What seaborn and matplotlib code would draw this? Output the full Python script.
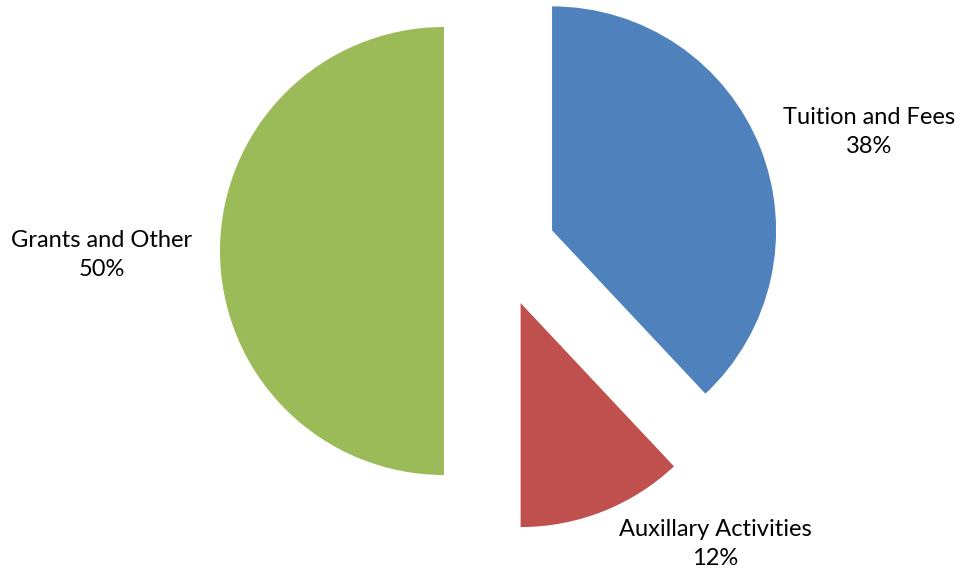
import matplotlib
matplotlib.use("Agg")
import matplotlib.pyplot as plt
import seaborn as sns

# Revenue shares by source
categories = ["Tuition and Fees", "Auxillary Activities", "Grants and Other"]
shares = [38, 12, 50]
pct_labels = ["38%", "12%", "50%"]

colors = sns.color_palette(["#4F81BD", "#C0504D", "#9BBB59"])

sns.set_theme(style="white")
plt.rcParams["font.family"] = ["Lato", "DejaVu Sans"]

W, H, DPI = 963, 576, 100
fig = plt.figure(figsize=(W / DPI, H / DPI), dpi=DPI)
ax = fig.add_axes([0, 0, 1, 1])

# one data unit = pie radius; the pie centre sits at (0, 0)
R_PX = 224.0
CX, CY = 500.0, 251.0

ax.pie(
    shares,
    colors=colors,
    startangle=90,
    counterclock=False,
    radius=1.0,
    center=(0, 0),
    explode=[0.25, 0.25, 0.25],
    wedgeprops=dict(linewidth=0),
    frame=False,
)
ax.set_xlim(-CX / R_PX, (W - CX) / R_PX)
ax.set_ylim(-(H - CY) / R_PX, CY / R_PX)
ax.set_aspect("equal")
ax.axis("off")

# label anchor positions in figure pixels (x from left, y from top)
label_pos = [(869, 132), (715, 544), (102, 255)]
for name, pct, (px, py) in zip(categories, pct_labels, label_pos):
    fig.text(px / W, 1 - py / H, f"{name}\n{pct}", ha="center", va="center",
             fontsize=17, color="black", linespacing=1.5)

fig.savefig("out.png", dpi=DPI)
